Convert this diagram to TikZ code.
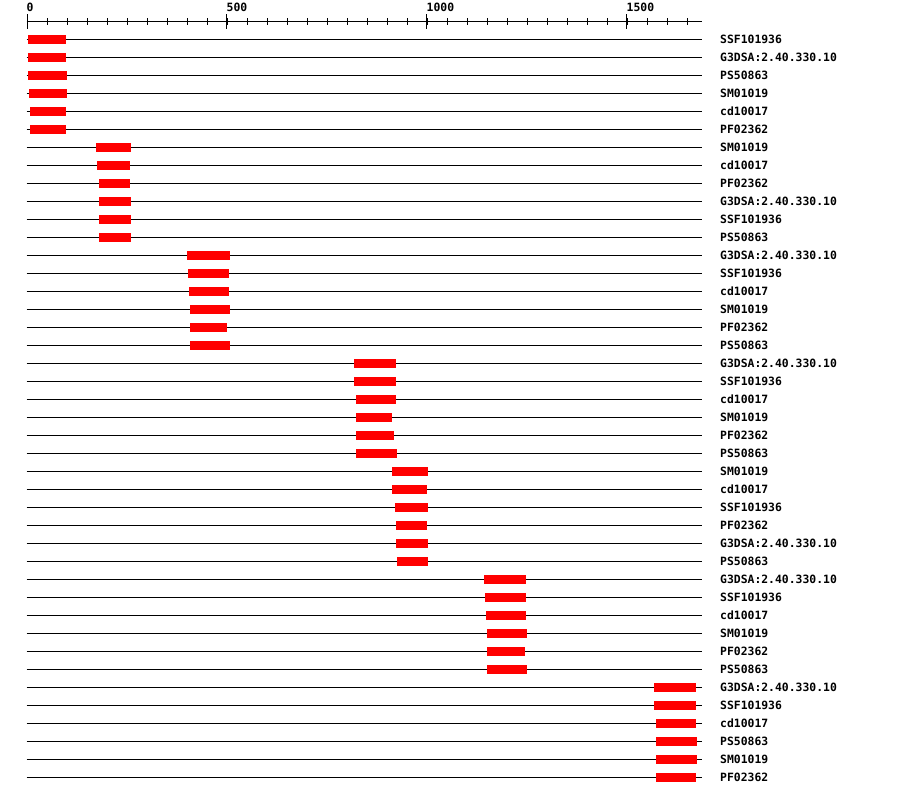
\documentclass[tikz,border=0pt]{standalone}
\usepackage{fontspec}
\usepackage{xcolor}
\usepackage{tikz}
\newfontfamily\domfont{DejaVu Sans Mono}
\definecolor{domRed}{HTML}{FF0000}
\tikzset{
  domline/.style={line width=1pt,black},
  dombar/.style={fill=domRed,draw=none},
  domlabel/.style={font=\domfont\bfseries\fontsize{11.4}{12}\selectfont,
                   inner sep=0pt,anchor=base west}
}

\begin{document}
\begin{tikzpicture}[x=1pt,y=-1pt]
  \useasboundingbox[fill=white] (0,0) rectangle (900,796);

  % scale bar (27 + 0.4 per residue)
  \draw[domline] (26.5,21.5) -- (702,21.5);
  \foreach \k in {0,...,33}
    \draw[domline] (27+20*\k,18) -- (27+20*\k,25);
  \foreach \v in {0,500,1000,1500} {
    \draw[domline] (27+0.4*\v,14) -- (27+0.4*\v,29);
    \node[domlabel] (ax\v) at (26.5+0.4*\v,11.7) {\v};
  }

  % one row per hit
  \foreach \s/\e/\hit [count=\i] in {
      3/98/SSF101936, 3/98/G3DSA:2.40.330.10, 3/100/PS50863,
      5/100/SM01019, 8/98/cd10017, 8/98/PF02362,
      173/260/SM01019, 175/258/cd10017, 180/258/PF02362,
      180/260/G3DSA:2.40.330.10, 180/260/SSF101936, 180/260/PS50863,
      400/508/G3DSA:2.40.330.10, 403/505/SSF101936, 405/505/cd10017,
      408/508/SM01019, 408/500/PF02362, 408/508/PS50863,
      818/923/G3DSA:2.40.330.10, 818/923/SSF101936, 823/923/cd10017,
      823/913/SM01019, 823/918/PF02362, 823/925/PS50863,
      913/1003/SM01019, 913/1000/cd10017, 920/1003/SSF101936,
      923/1000/PF02362, 923/1003/G3DSA:2.40.330.10, 925/1003/PS50863,
      1143/1248/G3DSA:2.40.330.10, 1145/1248/SSF101936, 1148/1248/cd10017,
      1150/1250/SM01019, 1150/1245/PF02362, 1150/1250/PS50863,
      1568/1673/G3DSA:2.40.330.10, 1568/1673/SSF101936, 1573/1673/cd10017,
      1573/1675/PS50863, 1573/1675/SM01019, 1573/1673/PF02362} {
    \pgfmathsetmacro\yy{39+18*(\i-1)}
    \draw[domline] (26.5,\yy) -- (702,\yy);
    \fill[dombar] (27+0.4*\s,\yy-4.5) rectangle (27+0.4*\e,\yy+4.5);
    \node[domlabel] (hit\i) at (720,\yy+4) {\hit};
  }
\end{tikzpicture}
\end{document}
